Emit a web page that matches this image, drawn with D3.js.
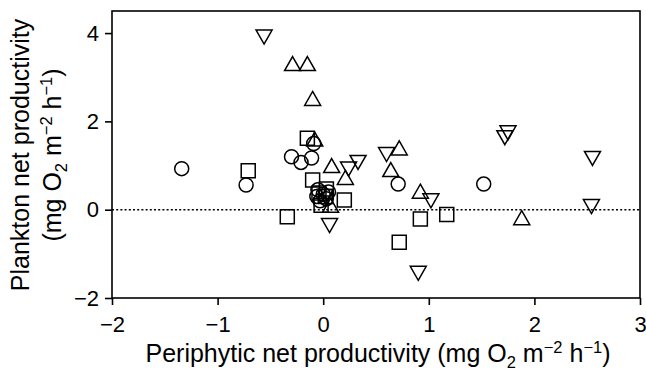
<!DOCTYPE html>
<html><head><meta charset="utf-8">
<script src="https://cdn.jsdelivr.net/npm/d3@7"></script>
<style>
html,body{margin:0;padding:0;background:#fff;}
svg{display:block;font-family:"Liberation Sans",Arial,Helvetica,sans-serif;}
</style></head>
<body><svg id="c" width="646" height="372"></svg>
<script>
// Data (x = periphytic, y = plankton net productivity)
const circles = [[-1.34,0.93],[-0.73,0.56],[-0.30,1.20],[-0.21,1.07],[-0.11,1.17],[-0.09,1.50],
  [-0.05,0.45],[0.00,0.35],[0.03,0.25],[-0.03,0.20],[0.05,0.40],[-0.06,0.30],[0.71,0.58],[1.52,0.58]];
const squares = [[-0.71,0.88],[-0.15,1.62],[-0.10,0.67],[0.03,0.47],[-0.02,0.10],[0.02,0.30],[-0.04,0.38],
  [0.20,0.22],[-0.34,-0.16],[0.72,-0.74],[0.92,-0.21],[1.17,-0.11]];
const trianglesUp = [[-0.29,3.31],[-0.15,3.31],[-0.10,2.52],[-0.08,1.60],[0.08,1.00],[0.21,0.73],
  [0.07,0.10],[0.72,1.40],[0.64,0.91],[0.92,0.42],[1.88,-0.18]];
const trianglesDown = [[-0.56,3.91],[0.24,0.92],[0.33,1.07],[0.06,-0.36],[0.02,0.30],[0.60,1.25],
  [1.02,0.20],[0.90,-1.44],[1.72,1.63],[1.75,1.74],[2.55,1.16],[2.54,0.07]];
const xTicks = [-2,-1,0,1,2,3];
const yTicks = [-2,0,2,4];

const svg = d3.select("#c");
const L=112, R=640, T=11, B=298;
const x = d3.scaleLinear().domain([-2,3]).range([L,R]);
const y = d3.scaleLinear().domain([-2,4.5]).range([B,T]);

// zero dotted line
svg.append("line").attr("x1",L).attr("x2",R).attr("y1",y(0)).attr("y2",y(0))
  .attr("stroke","#000").attr("stroke-width",1.6).attr("stroke-dasharray","2,2.2");

// markers
const sq = {draw(ctx,s){const h=7;ctx.moveTo(-h,-h);ctx.lineTo(h,-h);ctx.lineTo(h,h);ctx.lineTo(-h,h);ctx.closePath();}};
const ci = {draw(ctx,s){const r=7;ctx.moveTo(r,0);ctx.arc(0,0,r,0,2*Math.PI);}};
const tu = {draw(ctx,s){const w=8,h=7;ctx.moveTo(0,-h);ctx.lineTo(w,h);ctx.lineTo(-w,h);ctx.closePath();}};
const td = {draw(ctx,s){const w=8,h=7;ctx.moveTo(0,h);ctx.lineTo(w,-h);ctx.lineTo(-w,-h);ctx.closePath();}};
function plot(data,type){
  svg.append("g").selectAll("path").data(data).join("path")
    .attr("d",d3.symbol().type(type)())
    .attr("transform",d=>`translate(${x(d[0])},${y(d[1])})`)
    .attr("fill","none").attr("stroke","#000").attr("stroke-width",1.5);
}
plot(circles,ci); plot(squares,sq); plot(trianglesUp,tu); plot(trianglesDown,td);

// frame
svg.append("rect").attr("x",L).attr("y",T).attr("width",R-L).attr("height",B-T)
  .attr("fill","none").attr("stroke","#000").attr("stroke-width",1.6);

// axes
const fmt = d=>d<0?"\u2212"+(-d):d;
const xa = svg.append("g").attr("transform",`translate(0,${B})`)
  .call(d3.axisBottom(x).tickValues(xTicks).tickSize(7).tickPadding(11).tickFormat(fmt));
const ya = svg.append("g").attr("transform",`translate(${L},0)`)
  .call(d3.axisLeft(y).tickValues(yTicks).tickSize(7).tickPadding(6).tickFormat(fmt));
[xa,ya].forEach(a=>{a.select(".domain").remove();
  a.selectAll("line").attr("stroke","#000").attr("stroke-width",1.6);
  a.selectAll("text").attr("font-size",22).attr("fill","#000").attr("font-family","Liberation Sans, Arial, sans-serif");});

// titles
const FS=25, SS=16.5;
function unit(t){
  t.append("tspan").text("(mg O");
  t.append("tspan").attr("font-size",SS).attr("dy",6).text("2");
  t.append("tspan").attr("dy",-6).text(" m");
  t.append("tspan").attr("font-size",SS).attr("dy",-9).text("\u22122");
  t.append("tspan").attr("dy",9).text(" h");
  t.append("tspan").attr("font-size",SS).attr("dy",-9).text("\u22121");
  t.append("tspan").attr("dy",9).text(")");
}
const xt = svg.append("text").attr("x",378).attr("y",362).attr("text-anchor","middle")
  .attr("font-size",FS).attr("fill","#000");
xt.append("tspan").text("Periphytic net productivity ");
unit(xt);

const yg = svg.append("g").attr("transform","translate(0,155) rotate(-90)");
yg.append("text").attr("x",0).attr("y",29).attr("text-anchor","middle").attr("font-size",FS).attr("fill","#000")
  .text("Plankton net productivity");
const yt = yg.append("text").attr("x",0).attr("y",61).attr("text-anchor","middle").attr("font-size",FS).attr("fill","#000");
unit(yt);
</script></body></html>
